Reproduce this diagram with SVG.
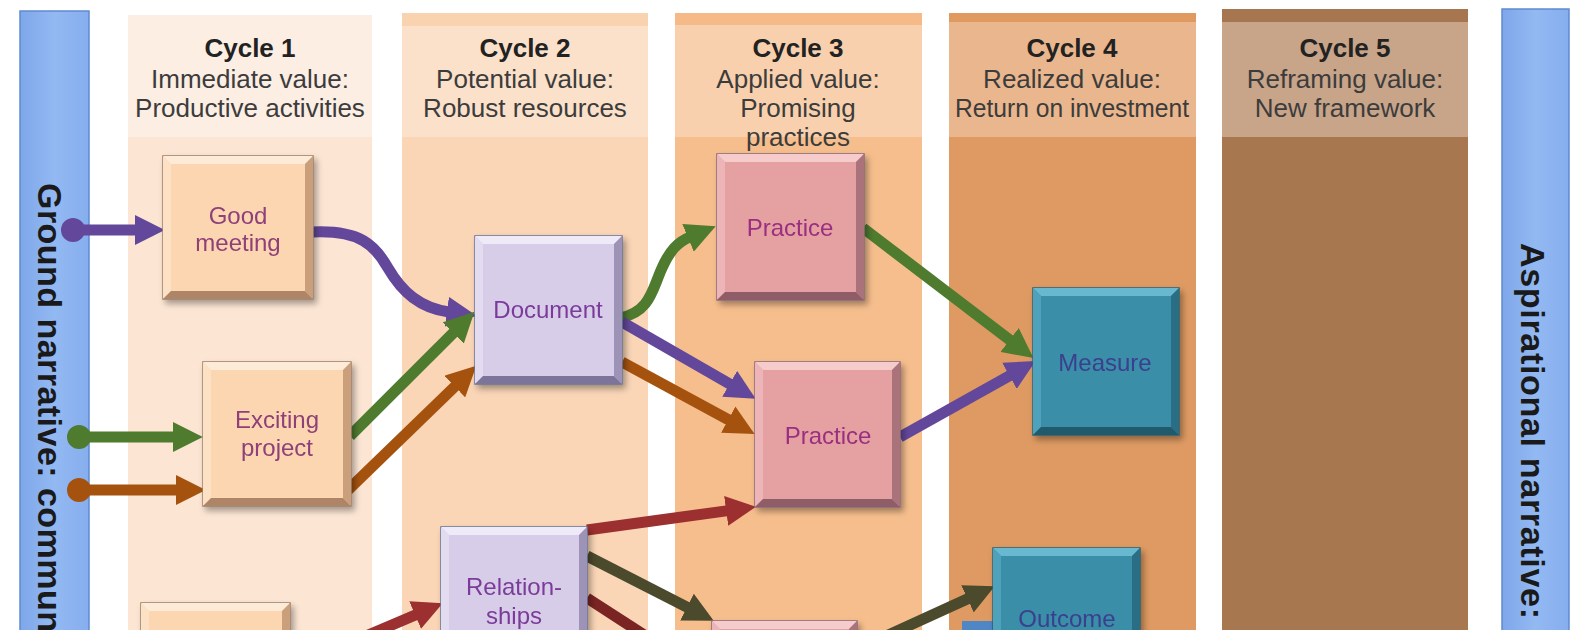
<svg xmlns="http://www.w3.org/2000/svg" width="1580" height="630" viewBox="0 0 1580 630">
<defs>
<style>
.hd{font-family:"Liberation Sans",Arial,sans-serif;font-size:26px;fill:#3c3c3c;text-anchor:middle}
.hd .t{font-weight:bold;fill:#222}
.side{font-family:"Liberation Sans",Arial,sans-serif;font-size:34px;font-weight:bold;fill:#1a1a1a}
.lbl{font-family:"Liberation Sans",Arial,sans-serif;font-size:24px;text-anchor:middle}
.face{stroke-width:1.5}
.peach .face{fill:#FCD6B0;stroke:#9C7F6C}.peach .hl{fill:#FEEBD7}.peach .hl2{fill:#FDE1C5}.peach .dk{fill:#C99F7C}.peach .dk2{fill:#AE8566}.peach text{fill:#8E3F78}
.lav .face{fill:#D8CDE8;stroke:#66749A}.lav .hl{fill:#EFEAF7}.lav .hl2{fill:#E3DBF0}.lav .dk{fill:#9C93B6}.lav .dk2{fill:#7D7599}.lav text{fill:#7A3A9A}
.pink .face{fill:#E5A0A2;stroke:#85697E}.pink .hl{fill:#F6CBCC}.pink .hl2{fill:#EDB5B7}.pink .dk{fill:#AA737B}.pink .dk2{fill:#8E5D67}.pink text{fill:#9A2F80}
.teal .face{fill:#3A8EA8;stroke:#2C5F73}.teal .hl{fill:#67B8D0}.teal .hl2{fill:#4FA2BC}.teal .dk{fill:#2A6E85}.teal .dk2{fill:#215A6D}.teal text{fill:#3B3F8E}
.node{filter:url(#sh)}
.cn{fill:none;stroke-width:11;stroke-linecap:butt}
.pu{stroke:#63479A}.gr{stroke:#4F7B2F}.or{stroke:#A5520E}.rd{stroke:#9C2F2F}.dr{stroke:#7B2424}.ol{stroke:#4B4A2C}
</style>
<filter id="sh" x="-20%" y="-20%" width="150%" height="150%"><feDropShadow dx="3" dy="4" stdDeviation="3" flood-color="#000" flood-opacity="0.35"/></filter>
<linearGradient id="blue" x1="0" y1="0" x2="1" y2="0"><stop offset="0" stop-color="#7EA7EA"/><stop offset="0.5" stop-color="#93B9F2"/><stop offset="1" stop-color="#86AEEE"/></linearGradient>
<marker id="mpu" markerUnits="userSpaceOnUse" markerWidth="30" markerHeight="30" viewBox="0 0 28 28" refX="2" refY="14" orient="auto"><path d="M0,0 L28,14 L0,28 Z" fill="#63479A"/></marker>
<marker id="mgr" markerUnits="userSpaceOnUse" markerWidth="30" markerHeight="30" viewBox="0 0 28 28" refX="2" refY="14" orient="auto"><path d="M0,0 L28,14 L0,28 Z" fill="#4F7B2F"/></marker>
<marker id="mor" markerUnits="userSpaceOnUse" markerWidth="30" markerHeight="30" viewBox="0 0 28 28" refX="2" refY="14" orient="auto"><path d="M0,0 L28,14 L0,28 Z" fill="#A5520E"/></marker>
<marker id="mrd" markerUnits="userSpaceOnUse" markerWidth="30" markerHeight="30" viewBox="0 0 28 28" refX="2" refY="14" orient="auto"><path d="M0,0 L28,14 L0,28 Z" fill="#9C2F2F"/></marker>
<marker id="mol" markerUnits="userSpaceOnUse" markerWidth="30" markerHeight="30" viewBox="0 0 28 28" refX="2" refY="14" orient="auto"><path d="M0,0 L28,14 L0,28 Z" fill="#4B4A2C"/></marker>
</defs>
<rect width="1580" height="630" fill="#ffffff"/>

<g id="columns">
<g id="cycle1">
<rect x="128" y="15" width="244" height="620" fill="#FCE5D3"/>
<rect x="128" y="15" width="244" height="122" fill="#FCEEE3"/>
<g class="hd"><text class="t" x="250" y="57">Cycle 1</text><text x="250" y="88">Immediate value:</text><text x="250" y="117">Productive activities</text></g>
</g>
<g id="cycle2">
<rect x="402" y="13" width="246" height="620" fill="#FAD5B6"/>
<rect x="402" y="13" width="246" height="124" fill="#FBE0CA"/>
<rect x="402" y="13" width="246" height="13" fill="#F9D2AF"/>
<g class="hd"><text class="t" x="525" y="57">Cycle 2</text><text x="525" y="88">Potential value:</text><text x="525" y="117">Robust resources</text></g>
</g>
<g id="cycle3">
<rect x="675" y="13" width="247" height="620" fill="#F7BE8D"/>
<rect x="675" y="13" width="247" height="124" fill="#F9D0AD"/>
<rect x="675" y="13" width="247" height="12" fill="#F6BA88"/>
<g class="hd"><text class="t" x="798" y="57">Cycle 3</text><text x="798" y="88">Applied value:</text><text x="798" y="117">Promising</text><text x="798" y="146">practices</text></g>
</g>
<g id="cycle4">
<rect x="949" y="13" width="247" height="620" fill="#DE9A62"/>
<rect x="949" y="13" width="247" height="124" fill="#EAB68D"/>
<rect x="949" y="13" width="247" height="9" fill="#E09A5F"/>
<g class="hd"><text class="t" x="1072" y="57">Cycle 4</text><text x="1072" y="88">Realized value:</text><text x="1072" y="117" textLength="234" lengthAdjust="spacingAndGlyphs">Return on investment</text></g>
</g>
<g id="cycle5">
<rect x="1222" y="9" width="246" height="625" fill="#A77850"/>
<rect x="1222" y="9" width="246" height="128" fill="#C8A489"/>
<rect x="1222" y="9" width="246" height="13" fill="#A57650"/>
<g class="hd"><text class="t" x="1345" y="57">Cycle 5</text><text x="1345" y="88">Reframing value:</text><text x="1345" y="117">New framework</text></g>
</g>
</g>

<g id="ground-bar">
<rect x="20" y="11" width="69" height="630" fill="url(#blue)" stroke="#5F8AD0" stroke-width="1.5"/>
<text class="side" transform="translate(38,183) rotate(90)" textLength="449" lengthAdjust="spacing">Ground narrative: commun</text>
</g>
<g id="aspirational-bar">
<rect x="1502" y="9" width="67" height="630" fill="url(#blue)" stroke="#5F8AD0" stroke-width="1.5"/>
<text class="side" transform="translate(1521,243) rotate(90)" textLength="376" lengthAdjust="spacing">Aspirational narrative:</text>
</g>

<g id="connectors">
<path class="cn pu" d="M73,230 L137,230" marker-end="url(#mpu)"/>
<circle cx="73" cy="230" r="12" fill="#63479A"/>
<path class="cn gr" d="M79,437 L175,437" marker-end="url(#mgr)"/>
<circle cx="79" cy="437" r="12" fill="#4F7B2F"/>
<path class="cn or" d="M79,490 L178,490" marker-end="url(#mor)"/>
<circle cx="79" cy="490" r="12" fill="#A5520E"/>
<path class="cn pu" d="M313,232 C360,230 375,245 388,268 C402,292 420,308 449,312" marker-end="url(#mpu)"/>
<path class="cn gr" d="M350,436 L454.7,331.5" marker-end="url(#mgr)"/>
<path class="cn or" d="M348,490 L456.3,385.1" marker-end="url(#mor)"/>
<path class="cn gr" d="M620,318 C650,312 652,290 662,268 C670,250 678,242 690,237" marker-end="url(#mgr)"/>
<path class="cn pu" d="M622,322 L731.5,384.9" marker-end="url(#mpu)"/>
<path class="cn or" d="M622,362 L730.1,420.6" marker-end="url(#mor)"/>
<path class="cn gr" d="M863,228 L1011.3,341.2" marker-end="url(#mgr)"/>
<path class="cn pu" d="M900,437 L1011.3,374.7" marker-end="url(#mpu)"/>
<path class="cn rd" d="M587,530 L728.3,510.6" marker-end="url(#mrd)"/>
<path class="cn ol" d="M587,556 L688.9,608.1" marker-end="url(#mol)"/>
<path class="cn dr" d="M587,598 L655,642"/>
<path class="cn rd" d="M345,645 L417.1,614.2" marker-end="url(#mrd)"/>
<path class="cn ol" d="M860,648 L969.4,597.9" marker-end="url(#mol)"/>
</g>

<g id="node-good-meeting" class="node peach">
<rect class="face" x="163" y="156" width="150" height="143"/>
<polygon class="hl" points="163,156 313,156 305,164 171,164"/>
<polygon class="hl2" points="163,156 171,164 171,291 163,299"/>
<polygon class="dk" points="313,156 313,299 305,291 305,164"/>
<polygon class="dk2" points="163,299 313,299 305,291 171,291"/>
<text class="lbl" x="238" y="224">Good</text><text class="lbl" x="238" y="251">meeting</text>
</g>
<g id="node-exciting-project" class="node peach">
<rect class="face" x="203" y="362" width="148" height="144"/>
<polygon class="hl" points="203,362 351,362 343,370 211,370"/>
<polygon class="hl2" points="203,362 211,370 211,498 203,506"/>
<polygon class="dk" points="351,362 351,506 343,498 343,370"/>
<polygon class="dk2" points="203,506 351,506 343,498 211,498"/>
<text class="lbl" x="277" y="428">Exciting</text><text class="lbl" x="277" y="456">project</text>
</g>
<g id="node-bottom-left" class="node peach">
<rect class="face" x="141" y="603" width="149" height="60"/>
<polygon class="hl" points="141,603 290,603 282,611 149,611"/>
<polygon class="hl2" points="141,603 149,611 149,655 141,663"/>
<polygon class="dk" points="290,603 290,663 282,655 282,611"/>
</g>
<g id="node-document" class="node lav">
<rect class="face" x="475" y="236" width="147" height="148"/>
<polygon class="hl" points="475,236 622,236 614,244 483,244"/>
<polygon class="hl2" points="475,236 483,244 483,376 475,384"/>
<polygon class="dk" points="622,236 622,384 614,376 614,244"/>
<polygon class="dk2" points="475,384 622,384 614,376 483,376"/>
<text class="lbl" x="548" y="318">Document</text>
</g>
<g id="node-relationships" class="node lav">
<rect class="face" x="441" y="527" width="146" height="140"/>
<polygon class="hl" points="441,527 587,527 579,535 449,535"/>
<polygon class="hl2" points="441,527 449,535 449,659 441,667"/>
<polygon class="dk" points="587,527 587,667 579,659 579,535"/>
<text class="lbl" x="514" y="595">Relation-</text><text class="lbl" x="514" y="624">ships</text>
</g>
<g id="node-practice-1" class="node pink">
<rect class="face" x="717" y="154" width="147" height="146"/>
<polygon class="hl" points="717,154 864,154 856,162 725,162"/>
<polygon class="hl2" points="717,154 725,162 725,292 717,300"/>
<polygon class="dk" points="864,154 864,300 856,292 856,162"/>
<polygon class="dk2" points="717,300 864,300 856,292 725,292"/>
<text class="lbl" x="790" y="236">Practice</text>
</g>
<g id="node-practice-2" class="node pink">
<rect class="face" x="755" y="362" width="145" height="145"/>
<polygon class="hl" points="755,362 900,362 892,370 763,370"/>
<polygon class="hl2" points="755,362 763,370 763,499 755,507"/>
<polygon class="dk" points="900,362 900,507 892,499 892,370"/>
<polygon class="dk2" points="755,507 900,507 892,499 763,499"/>
<text class="lbl" x="828" y="444">Practice</text>
</g>
<g id="node-practice-3" class="node pink">
<rect class="face" x="712" y="621" width="145" height="100"/>
<polygon class="hl" points="712,621 857,621 849,629 720,629"/>
<polygon class="hl2" points="712,621 720,629 720,713 712,721"/>
<polygon class="dk" points="857,621 857,721 849,713 849,629"/>
</g>
<g id="node-measure" class="node teal">
<rect class="face" x="1033" y="288" width="146" height="147"/>
<polygon class="hl" points="1033,288 1179,288 1171,296 1041,296"/>
<polygon class="hl2" points="1033,288 1041,296 1041,427 1033,435"/>
<polygon class="dk" points="1179,288 1179,435 1171,427 1171,296"/>
<polygon class="dk2" points="1033,435 1179,435 1171,427 1041,427"/>
<text class="lbl" x="1105" y="371">Measure</text>
</g>
<g id="node-blue-partial">
<rect x="962" y="621" width="34" height="20" fill="#4F86C6"/>
</g>
<g id="node-outcome" class="node teal">
<rect class="face" x="993" y="548" width="147" height="120"/>
<polygon class="hl" points="993,548 1140,548 1132,556 1001,556"/>
<polygon class="hl2" points="993,548 1001,556 1001,660 993,668"/>
<polygon class="dk" points="1140,548 1140,668 1132,660 1132,556"/>
<text class="lbl" x="1067" y="627">Outcome</text>
</g>
</svg>
